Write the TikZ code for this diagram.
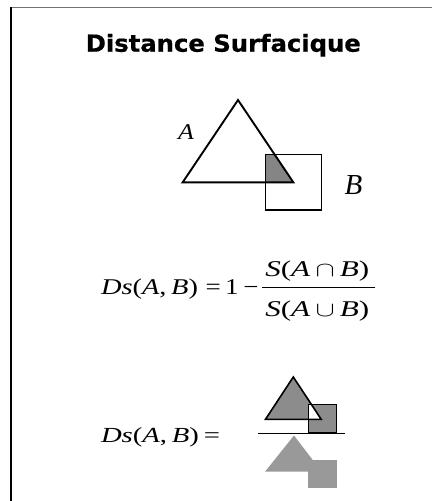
\documentclass[tikz,border=0pt]{standalone}
\usepackage{fontspec}
\setmainfont{Liberation Serif}
\newfontfamily\titlefont{DejaVu Sans}[BoldFeatures={FakeBold=0.6}]
\newcommand{\fitw}[2]{\resizebox{#1}{\height}{#2}}
\tikzset{
  eq/.style={inner sep=0pt, outer sep=0pt},
  ttl/.style={inner sep=0pt, outer sep=0pt, font=\titlefont\bfseries\fontsize{23.5}{28}\selectfont},
  fr/.style={font=\fontsize{22.5}{27}\selectfont},
  frb/.style={font=\fontsize{21.5}{26}\selectfont},
  trioutline/.style={draw=black, line width=1.9pt, line join=miter},
  sqoutline/.style={draw=black, line width=1.5pt},
  darkfill/.style={fill=black!48},
  midfill/.style={fill=black!45},
  lightfill/.style={fill=black!40},
  barline/.style={draw=black, line width=1.3pt}
}
\begin{document}
\begin{tikzpicture}[x=1pt,y=-1pt]
\useasboundingbox (0,0) rectangle (432,501);
% frame
\draw[black!55, line width=1.6pt] (11,7.5) -- (432,7.5);
\draw[black, line width=1.1pt] (11,7) -- (11,501);
% title
\node[ttl, anchor=base] (title) at (223.3,51.7) {\fitw{275pt}{Distance Surfacique}};
% top figure
\coordinate (tA) at (238,100);
\coordinate (tL) at (182.7,182.3);
\coordinate (tR) at (293.3,182.3);
\coordinate (sTL) at (265.7,154.3);
\coordinate (sBR) at (321.7,210);
\fill[darkfill] (265.7,154.3) -- (274.5,154.3) -- (tR) -- (265.7,182.3) -- cycle;
\draw[sqoutline] (sTL) rectangle (sBR);
\draw[trioutline] (tA) -- (tL) -- (tR) -- cycle;
\node[eq, font=\fontsize{22.5}{27}\selectfont, anchor=base] (labA) at (186,139.3) {\scalebox{1.15}[1]{\textit{A}}};
\node[eq, font=\fontsize{29}{34}\selectfont, anchor=base] (labB) at (353.5,194.3) {\textit{B}};
% formula 1
\node[eq, fr, anchor=base west] (ds1) at (101,294) {\fitw{97pt}{\textit{Ds}(\textit{A},\,\textit{B})}};
\node[eq, fr, anchor=base west] (rest1) at (205.5,294) {\fitw{53pt}{=\,1\,−}};
\node[eq, fr, anchor=base] (num1) at (317.3,276.7) {\fitw{104pt}{\textit{S}(\textit{A}\,$\cap$\,\textit{B})}};
\node[eq, fr, anchor=base] (den1) at (317.3,316.7) {\fitw{104pt}{\textit{S}(\textit{A}\,$\cup$\,\textit{B})}};
\draw[barline, line width=1.1pt] (261.7,287.3) -- (375,287.3);
% formula 2
\node[eq, frb, anchor=base west] (ds2) at (101,442.7) {\fitw{119pt}{\textit{Ds}(\textit{A},\,\textit{B})\,=}};
% numerator picture
\coordinate (nA) at (293.3,377);
\coordinate (nL) at (265.5,419.3);
\coordinate (nR) at (321.2,419.3);
\fill[midfill] (nA) -- (nL) -- (nR) -- cycle;
\fill[midfill] (308.3,404.3) rectangle (336.7,432.8);
\fill[white] (308.3,404.3) -- (311.6,404.3) -- (nR) -- (308.3,419.3) -- cycle;
\draw[sqoutline] (308.3,404.3) rectangle (336.7,432.8);
\draw[trioutline, line width=1.6pt] (nA) -- (nL) -- (nR) -- cycle;
\draw[barline] (258.3,433.3) -- (345,433.3);
% denominator picture
\fill[lightfill] (294,435.5) -- (265,471.7) -- (321.7,471.7) -- cycle;
\fill[lightfill] (308.3,460) rectangle (336.7,488.3);
\end{tikzpicture}
\end{document}
